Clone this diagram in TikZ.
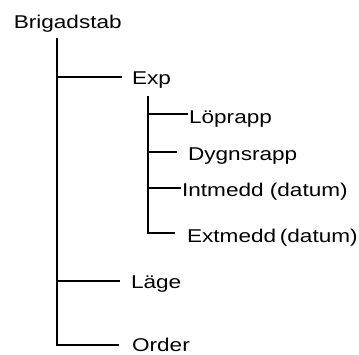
\documentclass[tikz,border=0pt]{standalone}
\usepackage{fontspec}
\setmainfont{Liberation Sans}
\newcommand{\wide}[1]{\scalebox{1.22}[1]{#1}}
\begin{document}
\begin{tikzpicture}[x=1pt,y=-1pt,line width=2.2pt,
  lbl/.style={anchor=base west,inner sep=0pt,font=\fontsize{18.5}{20}\selectfont},
  branch/.style={line cap=butt}]
\useasboundingbox (0,0) rectangle (359,355);
% labels
\node[lbl] (brig) at (12.7,28.7) {\wide{Brigadstab}};
\node[lbl] (exp)  at (131,85) {\wide{Exp}};
\node[lbl] (lop)  at (188,124) {\wide{Löprapp}};
\node[lbl] (dyg)  at (187,161) {\wide{Dygnsrapp}};
\node[lbl] (int)  at (181,197) {\wide{Intmedd (datum)}};
\node[lbl] (ext)  at (186,243) {\wide{Extmedd\,(datum)}};
\node[lbl] (lage) at (130,289) {\wide{Läge}};
\node[lbl] (ord)  at (131,352) {\wide{Order}};
% trunk coordinates
\coordinate (t0) at (57,38);
\coordinate (tExp) at (57,77);
\coordinate (tLage) at (57,281);
\coordinate (tOrd) at (57,345);
\coordinate (eExp) at (122,77);
\coordinate (eLage) at (120,281);
\coordinate (eOrd) at (119,345);
% sub trunk
\coordinate (s0) at (148,96);
\coordinate (sLop) at (148,114);
\coordinate (sDyg) at (148,152);
\coordinate (sInt) at (148,188);
\coordinate (sExt) at (148,233);
\coordinate (eLop) at (188,114);
\coordinate (eDyg) at (177,152);
\coordinate (eInt) at (181,188);
\coordinate (eExt) at (175,233);
% lines
\draw[branch] (t0) -- (tOrd) -- (eOrd);
\draw[branch] (tExp) -- (eExp);
\draw[branch] (tLage) -- (eLage);
\draw[branch] (s0) -- (sExt) -- (eExt);
\draw[branch] (sLop) -- (eLop);
\draw[branch] (sDyg) -- (eDyg);
\draw[branch] (sInt) -- (eInt);
\end{tikzpicture}
\end{document}
